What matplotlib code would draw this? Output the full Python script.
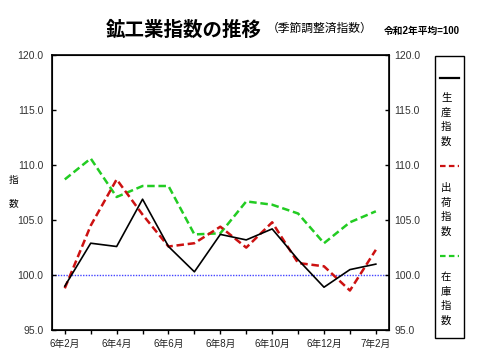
import matplotlib
matplotlib.use('Agg')
import matplotlib.pyplot as plt
from matplotlib.lines import Line2D
from matplotlib.patches import Rectangle

plt.rcParams['font.family'] = ['Liberation Sans', 'Noto Sans CJK JP', 'DejaVu Sans']

# months 6年2月 .. 7年2月
months = ['6年2月', '6年3月', '6年4月', '6年5月', '6年6月', '6年7月', '6年8月',
          '6年9月', '6年10月', '6年11月', '6年12月', '7年1月', '7年2月']
production = [99.0, 102.9, 102.6, 106.9, 102.6, 100.3, 103.7, 103.2, 104.2, 101.4, 98.9, 100.5, 101.0]
shipments = [98.8, 104.5, 108.7, 105.5, 102.6, 102.9, 104.4, 102.5, 104.8, 101.1, 100.8, 98.6, 102.3]
inventory = [108.7, 110.6, 107.1, 108.1, 108.1, 103.7, 103.8, 106.7, 106.4, 105.6, 102.9, 104.8, 105.8]

yticks = [95.0, 100.0, 105.0, 110.0, 115.0, 120.0]

fig = plt.figure(figsize=(4.8, 3.6), dpi=100)
ax = fig.add_axes([0.108, 0.083, 0.702, 0.764])

x = list(range(len(months)))
ax.axhline(100, color='#4444ff', lw=1.0, ls=(0, (1, 1)), zorder=1)
ax.plot(x, inventory, color='#22cc22', lw=1.8, ls=(0, (3, 1.5)), zorder=2)
ax.plot(x, shipments, color='#cc1111', lw=1.8, ls=(0, (3, 1.5)), zorder=3)
ax.plot(x, production, color='black', lw=1.2, zorder=4)

ax.set_xlim(-0.5, 12.5)
ax.set_ylim(95, 120)
ax.set_xticks(x)
ax.set_xticklabels([m if i % 2 == 0 else '' for i, m in enumerate(months)], fontsize=7, color='#222222')
ax.set_yticks(yticks)
ax.set_yticklabels(['%.1f' % v for v in yticks], fontsize=7.5, color='#333333')
ax.tick_params(axis='x', direction='out', length=3, width=1, pad=3)
ax.tick_params(axis='y', direction='in', length=3, width=1, pad=6)
for s in ax.spines.values():
    s.set_linewidth(1.2)

ax2 = ax.twinx()
ax2.set_ylim(95, 120)
ax2.set_yticks(yticks)
ax2.set_yticklabels(['%.1f' % v for v in yticks], fontsize=7.5, color='#333333')
ax2.tick_params(axis='y', direction='in', length=3, width=1, pad=4)

# y label
fig.text(0.018, 0.50, '指', fontsize=7, ha='left', va='center')
fig.text(0.018, 0.435, '数', fontsize=7, ha='left', va='center')

# titles
fig.text(0.22, 0.915, '鉱工業指数の推移', fontsize=14, fontweight='bold', ha='left', va='center')
fig.text(0.555, 0.92, '（季節調整済指数）', fontsize=8.5, ha='left', va='center')
fig.text(0.80, 0.915, '令和2年平均=100', fontsize=7, fontweight='bold', ha='left', va='center')

# legend box
lax = fig.add_axes([0, 0, 1, 1], facecolor='none')
lax.set_xlim(0, 480)
lax.set_ylim(360, 0)
lax.axis('off')
lax.add_patch(Rectangle((435, 56), 29, 282, fill=False, edgecolor='black', lw=1.0))
items = [('生産指数', 'black', '-', 78, 98),
         ('出荷指数', '#cc1111', (0, (2.5, 1.5)), 166, 188),
         ('在庫指数', '#22cc22', (0, (2.5, 1.5)), 256, 277)]
for label, c, ls, ly, ty in items:
    lax.add_line(Line2D([440, 459], [ly, ly], color=c, ls=ls, lw=1.6))
    for k, ch in enumerate(label):
        lax.text(441, ty + k * 14.5, ch, fontsize=7.5, ha='left', va='center')

fig.savefig('out.png', dpi=100)
